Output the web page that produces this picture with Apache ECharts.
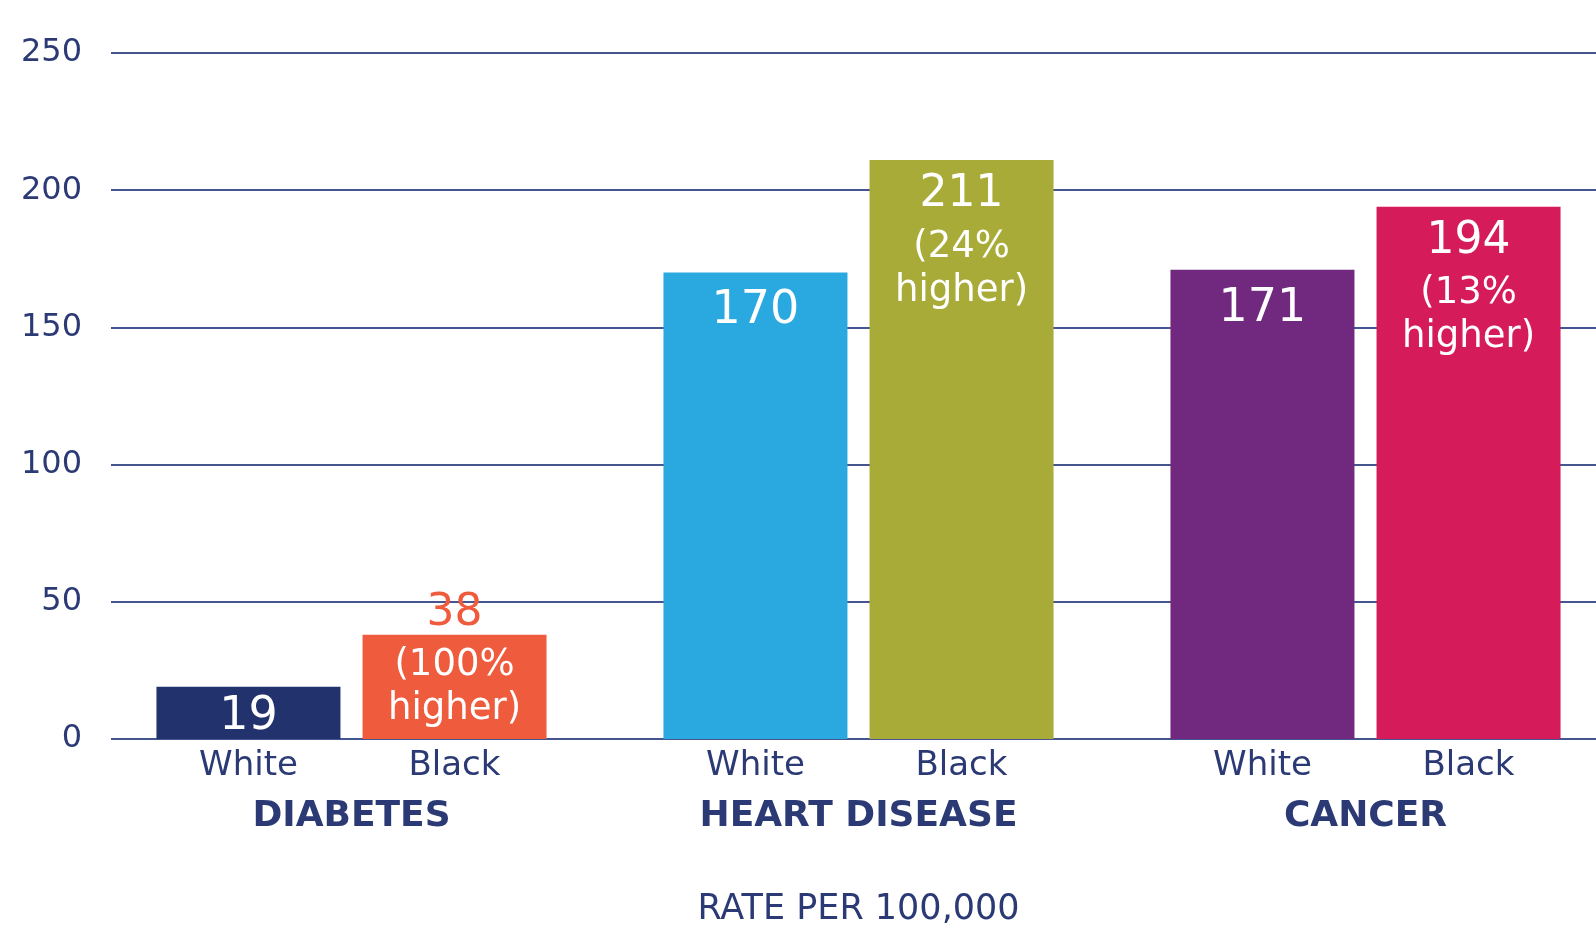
<!DOCTYPE html>
<html>
<head>
<meta charset="utf-8">
<script src="https://cdn.jsdelivr.net/npm/echarts@6/dist/echarts.min.js"></script>
<style>
html,body{margin:0;padding:0;background:#fff;}
#chart{width:1596px;height:934px;}
</style>
</head>
<body>
<div id="chart"></div>
<script>
// ---- data ----
const categories = ['DIABETES', 'HEART DISEASE', 'CANCER'];
const subLabels = ['White', 'Black'];
const whiteValues = [19, 170, 171];
const blackValues = [38, 211, 194];
const blackNotes = ['(100%', '(24%', '(13%'];
const yTicks = [0, 50, 100, 150, 200, 250];
const axisTitle = 'RATE PER 100,000';

// ---- styles ----
const whiteColors = ['#22326c', '#29a9e0', '#71297f'];
const blackColors = ['#ef5b3d', '#a8ab37', '#d51b59'];
const navy = '#2b3a74';
const gridColor = '#44558f';
const FONT = 'DejaVu Sans';

const chart = echarts.init(document.getElementById('chart'));

const richLabel = {
  v: { fontFamily: FONT, fontSize: 46, lineHeight: 56, color: '#fff' },
  vb: { fontFamily: FONT, fontSize: 44, lineHeight: 60, color: '#fff' },
  vo: { fontFamily: FONT, fontSize: 44, lineHeight: 60, color: blackColors[0] },
  p: { fontFamily: FONT, fontSize: 37, lineHeight: 44, color: '#fff' }
};

const whiteData = whiteValues.map((v, i) => ({
  value: v,
  itemStyle: { color: whiteColors[i] },
  label: v < 30 ? { position: 'inside', offset: [0, 4] } : { position: 'insideTop' }
}));
const blackData = blackValues.map((v, i) => {
  const outside = v < 50;
  return {
    value: v,
    itemStyle: { color: blackColors[i] },
    label: {
      formatter: '{' + (outside ? 'vo' : 'vb') + '|' + v + '}\n{p|' + blackNotes[i] + '}\n{p|higher)}',
      offset: outside ? [0, -56] : [0, 0]
    }
  };
});

const option = {
  animation: false,
  backgroundColor: '#ffffff',
  grid: [
    { left: 98, width: 1521, top: 53, bottom: 195, containLabel: false, outerBoundsMode: 'none' },
    { left: 111, right: 0, top: 53, bottom: 195, containLabel: false, outerBoundsMode: 'none' }
  ],
  xAxis: [
    {
      type: 'category',
      gridIndex: 0,
      data: categories,
      axisLine: { show: false },
      axisTick: { show: false },
      axisLabel: {
        interval: 0,
        margin: 7,
        formatter: function (c) {
          return '{w|' + subLabels[0] + '}{b|' + subLabels[1] + '}\n{g|' + c + '}';
        },
        rich: {
          w: { width: 206, align: 'center', fontFamily: FONT, fontSize: 34, lineHeight: 40, color: navy },
          b: { width: 206, align: 'center', fontFamily: FONT, fontSize: 34, lineHeight: 40, color: navy },
          g: { fontFamily: FONT, fontSize: 36, fontWeight: 'bold', lineHeight: 62, color: navy }
        }
      },
      name: axisTitle,
      nameLocation: 'middle',
      nameGap: 153,
      nameTextStyle: { fontFamily: FONT, fontSize: 35, color: navy }
    },
    {
      type: 'value',
      gridIndex: 1,
      show: false
    }
  ],
  yAxis: [
    {
      type: 'value',
      gridIndex: 0,
      min: yTicks[0],
      max: yTicks[yTicks.length - 1],
      interval: yTicks[1] - yTicks[0],
      show: false,
      splitLine: { show: false }
    },
    {
      type: 'value',
      gridIndex: 1,
      min: yTicks[0],
      max: yTicks[yTicks.length - 1],
      interval: yTicks[1] - yTicks[0],
      axisLine: { show: false },
      axisTick: { show: false },
      axisLabel: {
        margin: 29,
        fontFamily: FONT,
        fontSize: 32,
        color: navy
      },
      splitLine: { show: true, lineStyle: { color: gridColor, width: 2 } }
    }
  ],
  series: [
    {
      name: subLabels[0],
      type: 'bar',
      xAxisIndex: 0,
      yAxisIndex: 0,
      data: whiteData,
      barWidth: 184,
      barGap: '12%',
      z: 3,
      label: {
        show: true,
        position: 'insideTop',
        distance: 11,
        formatter: '{v|{c}}',
        rich: richLabel
      }
    },
    {
      name: subLabels[1],
      type: 'bar',
      xAxisIndex: 0,
      yAxisIndex: 0,
      data: blackData,
      barWidth: 184,
      barGap: '12%',
      z: 3,
      label: {
        show: true,
        position: 'insideTop',
        distance: 5,
        rich: richLabel
      }
    }
  ]
};
chart.setOption(option);
</script>
</body>
</html>
